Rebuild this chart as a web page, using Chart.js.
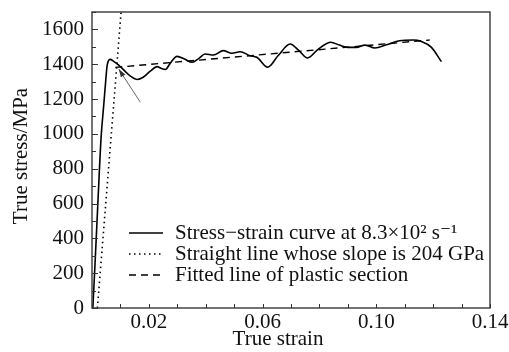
<!DOCTYPE html>
<html>
<head>
<meta charset="utf-8">
<script src="https://cdn.jsdelivr.net/npm/chart.js@4/dist/chart.umd.min.js"></script>
<style>
  html, body { margin: 0; padding: 0; background: #fff; }
  #wrap { width: 509px; height: 352px; }
</style>
</head>
<body>
<div id="wrap"><canvas id="c" width="509" height="352"></canvas></div>
<script>
// Measured stress-strain response (true strain, true stress in MPa)
const curveStrain = [0.0003, 0.0012, 0.0022, 0.0032, 0.0041, 0.0048, 0.0053, 0.0058, 0.0064, 0.0075,
  0.0094, 0.0115, 0.0135, 0.0160, 0.0180, 0.0205, 0.0229, 0.0245, 0.0258, 0.0275,
  0.0299, 0.0325, 0.0352, 0.0375, 0.0398, 0.0427, 0.0462, 0.0492, 0.0521, 0.0556,
  0.0580, 0.0618, 0.0655, 0.0697, 0.0728, 0.0758, 0.0796, 0.0840, 0.0870, 0.0901,
  0.0930, 0.0960, 0.0995, 0.1036, 0.1082, 0.1129, 0.1159, 0.1194, 0.1229];
const curveStress = [0, 300, 650, 980, 1160, 1300, 1390, 1420, 1428, 1418,
  1395, 1362, 1332, 1312, 1325, 1360, 1386, 1375, 1370, 1405,
  1445, 1430, 1411, 1432, 1459, 1453, 1478, 1463, 1472, 1449,
  1440, 1383, 1450, 1516, 1478, 1436, 1487, 1526, 1510, 1497,
  1497, 1510, 1493, 1512, 1535, 1539, 1531, 1497, 1415];

// Elastic line, slope 204 GPa
const elasticStrain = [0.0019, 0.01023];
const elasticStress = [0, 1700];

// Linear fit of the plastic section
const fitStrain = [0.0082, 0.1188];
const fitStress = [1382, 1539];

// Arrow pointing at the yield point (tail, tip)
const arrowStrain = [0.0170, 0.0094];
const arrowStress = [1182, 1372];

// Axis tick labels
const xTickLabels = [0.02, 0.06, 0.10, 0.14];
const yTickLabels = [0, 200, 400, 600, 800, 1000, 1200, 1400, 1600];

const labels = [
  'Stress\u2212strain curve at 8.3\u00d710\u00b2 s\u207b\u00b9',
  'Straight line whose slope is 204 GPa',
  'Fitted line of plastic section'
];

const toPoints = (xs, ys) => xs.map((x, i) => ({ x: x, y: ys[i] }));
const FONT = '"Liberation Serif", "DejaVu Serif", serif';
const INK = '#111';
const FS = 21;

// Inward tick marks, frame, arrowhead, axis titles and legend
const framePlugin = {
  id: 'frame',
  afterDraw(chart) {
    const { ctx, chartArea: a, scales } = chart;
    ctx.save();
    ctx.strokeStyle = '#444';
    ctx.lineWidth = 1.5;
    ctx.strokeRect(a.left, a.top, a.right - a.left, a.bottom - a.top);
    ctx.lineWidth = 1;
    ctx.strokeStyle = '#333';
    scales.y.ticks.forEach(t => {
      const py = Math.round(scales.y.getPixelForValue(t.value)) + 0.5;
      const len = (Math.round(t.value) % 200 === 0) ? 6 : 4;
      ctx.beginPath(); ctx.moveTo(a.left, py); ctx.lineTo(a.left + len, py); ctx.stroke();
    });
    scales.x.ticks.forEach(t => {
      const px = Math.round(scales.x.getPixelForValue(t.value)) + 0.5;
      ctx.beginPath(); ctx.moveTo(px, a.bottom); ctx.lineTo(px, a.bottom - 4); ctx.stroke();
    });
    // arrowhead
    const x0 = scales.x.getPixelForValue(arrowStrain[0]), y0 = scales.y.getPixelForValue(arrowStress[0]);
    const x1 = scales.x.getPixelForValue(arrowStrain[1]), y1 = scales.y.getPixelForValue(arrowStress[1]);
    const ang = Math.atan2(y1 - y0, x1 - x0);
    const L = 8, W = 2.6;
    ctx.fillStyle = '#333';
    ctx.beginPath();
    ctx.moveTo(x1, y1);
    ctx.lineTo(x1 - L * Math.cos(ang) + W * Math.sin(ang), y1 - L * Math.sin(ang) - W * Math.cos(ang));
    ctx.lineTo(x1 - L * Math.cos(ang) - W * Math.sin(ang), y1 - L * Math.sin(ang) + W * Math.cos(ang));
    ctx.closePath(); ctx.fill();

    // axis titles
    ctx.fillStyle = INK;
    ctx.font = FS + 'px ' + FONT;
    ctx.textAlign = 'center';
    ctx.textBaseline = 'middle';
    ctx.fillText('True strain', 278, 339);
    ctx.save();
    ctx.translate(21, 156);
    ctx.rotate(-Math.PI / 2);
    ctx.fillText('True stress/MPa', 0, 0);
    ctx.restore();

    // legend
    const rows = [233, 254, 275];
    chart.data.datasets.slice(0, 3).forEach((ds, i) => {
      ctx.strokeStyle = ds.borderColor;
      ctx.lineWidth = ds.borderWidth;
      ctx.setLineDash(ds.borderDash || []);
      ctx.beginPath(); ctx.moveTo(129, rows[i]); ctx.lineTo(163, rows[i]); ctx.stroke();
      ctx.setLineDash([]);
      ctx.textAlign = 'left';
      ctx.fillStyle = INK;
      ctx.fillText(ds.label, 175, rows[i]);
    });
    ctx.restore();
  }
};

new Chart(document.getElementById('c'), {
  type: 'scatter',
  data: {
    datasets: [
      { label: labels[0], data: toPoints(curveStrain, curveStress), showLine: true,
        borderColor: '#000', borderWidth: 1.6, pointRadius: 0, tension: 0.4, cubicInterpolationMode: 'monotone' },
      { label: labels[1], data: toPoints(elasticStrain, elasticStress), showLine: true,
        borderColor: '#000', borderWidth: 1.6, borderDash: [1.5, 3.5], pointRadius: 0 },
      { label: labels[2], data: toPoints(fitStrain, fitStress), showLine: true,
        borderColor: '#000', borderWidth: 1.4, borderDash: [7, 5], pointRadius: 0 },
      { label: 'arrow', data: toPoints(arrowStrain, arrowStress), showLine: true,
        borderColor: '#555', borderWidth: 0.9, pointRadius: 0 }
    ]
  },
  options: {
    responsive: false,
    animation: false,
    clip: true,
    layout: { padding: { left: 0, right: 19, top: 12, bottom: 0 } },
    plugins: { legend: { display: false }, tooltip: { enabled: false } },
    scales: {
      x: {
        type: 'linear', min: 0, max: 0.14,
        afterFit: s => { s.height = 44; s.paddingLeft = 0; s.paddingRight = 0; },
        grid: { drawOnChartArea: false, drawTicks: false },
        border: { display: false },
        ticks: {
          stepSize: 0.01, padding: 2, color: INK, font: { family: FONT, size: FS },
          maxRotation: 0, autoSkip: false,
          callback: v => {
            const hit = xTickLabels.find(t => Math.abs(t - v) < 1e-6);
            return hit === undefined ? '' : hit.toFixed(2);
          }
        }
      },
      y: {
        type: 'linear', min: 0, max: 1700,
        afterFit: s => { s.width = 92; s.paddingTop = 0; s.paddingBottom = 0; },
        grid: { drawOnChartArea: false, drawTicks: false },
        border: { display: false },
        ticks: {
          stepSize: 100, padding: 8, color: INK, font: { family: FONT, size: FS },
          autoSkip: false,
          callback: v => yTickLabels.includes(Math.round(v)) ? String(Math.round(v)) : ''
        }
      }
    }
  },
  plugins: [framePlugin]
});
</script>
</body>
</html>
